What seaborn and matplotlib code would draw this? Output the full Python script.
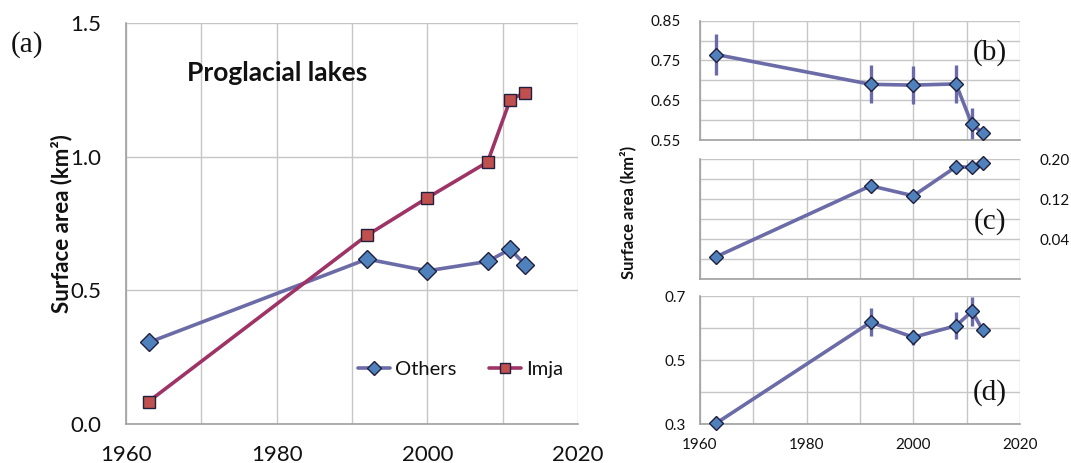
import matplotlib
matplotlib.use("Agg")
import matplotlib.pyplot as plt
import numpy as np
import pandas as pd
import seaborn as sns

sns.set_theme(style="white")
plt.rcParams["font.family"] = ["Lato", "DejaVu Sans"]

# Survey years shared by every series
years = [1963, 1992, 2000, 2008, 2011, 2013]

# (a) total proglacial lake area, km²
others_area = [0.305, 0.617, 0.573, 0.608, 0.654, 0.595]
imja_area = [0.084, 0.706, 0.846, 0.980, 1.213, 1.240]

# (b) lake area, km², with uncertainty
b_area = [0.765, 0.690, 0.688, 0.691, 0.589, 0.568]
b_err = [0.052, 0.048, 0.048, 0.048, 0.042, 0.0]

# (c) lake area, km²
c_area = [0.005, 0.147, 0.127, 0.185, 0.184, 0.192]

# (d) lake area, km², with uncertainty
d_area = [0.302, 0.618, 0.571, 0.607, 0.652, 0.594]
d_err = [0.018, 0.043, 0.024, 0.042, 0.046, 0.0]

line_blue = "#6B6BA8"
fill_blue = "#4F81BD"
line_red = "#9E3466"
fill_red = "#C0504D"
edge = "#1F1F3F"
grid_c = "#C6C6C6"
spine_c = "#A0A0A0"
text_c = "#111111"

fig = plt.figure(figsize=(10.71, 4.63), dpi=100)
W, H = 1071, 463


def frac(l, t, r, b):
    return [l / W, 1 - b / H, (r - l) / W, (b - t) / H]


def style_axes(ax, xmin=1960, xmax=2020):
    ax.set_xlim(xmin, xmax)
    ax.set_xticks(np.arange(1960, 2021, 10))
    ax.grid(True, color=grid_c, linewidth=1.0)
    ax.set_axisbelow(True)
    for s in ["top", "right"]:
        ax.spines[s].set_visible(False)
    for s in ["left", "bottom"]:
        ax.spines[s].set_color(spine_c)
        ax.spines[s].set_linewidth(1.2)
    ax.tick_params(length=0)


def series(ax, x, y, lc, fc, marker, ms, label=None, err=None):
    df = pd.DataFrame({"year": x, "area": y})
    if err is not None:
        ax.errorbar(x, y, yerr=err, fmt="none", ecolor=lc, elinewidth=2.4,
                    capsize=0, zorder=2)
    sns.lineplot(data=df, x="year", y="area", ax=ax, color=lc, linewidth=2.6,
                 marker=marker, markersize=ms, markerfacecolor=fc,
                 markeredgecolor=edge, markeredgewidth=1.0, label=label,
                 legend=False, zorder=3, clip_on=False)
    ax.set_xlabel("")
    ax.set_ylabel("")


# ---- (a) ----
ax_a = fig.add_axes(frac(126, 23, 578, 424))
style_axes(ax_a)
series(ax_a, years, others_area, line_blue, fill_blue, "D", 9, "Others")
series(ax_a, years, imja_area, line_red, fill_red, "s", 8.5, "Imja")
ax_a.set_ylim(0, 1.5)
ax_a.set_yticks([0, 0.5, 1.0, 1.5])
ax_a.set_yticklabels(["0.0", "0.5", "1.0", "1.5"])
ax_a.set_xticks([1960, 1980, 2000, 2020], labels=["1960", "1980", "2000", "2020"])
ax_a.set_xticks(np.arange(1960, 2021, 10), minor=True)
ax_a.grid(True, which="minor", color=grid_c, linewidth=1.0)
ax_a.tick_params(axis="y", labelsize=16, pad=18, colors=text_c)
ax_a.tick_params(axis="x", labelsize=16, pad=15, colors=text_c)
ax_a.set_ylabel("Surface area (km²)", fontsize=16, fontweight="bold",
                labelpad=-2, color=text_c)
ax_a.text(0.135, 0.875, "Proglacial lakes", transform=ax_a.transAxes,
          fontsize=19, fontweight="bold", ha="left", va="center", color=text_c)
handles, labels = ax_a.get_legend_handles_labels()
leg = ax_a.legend(handles, labels, loc="center", bbox_to_anchor=(0.74, 0.135),
                  ncol=2, frameon=False, fontsize=14.5, handlelength=1.6,
                  handletextpad=0.25, columnspacing=1.6, markerscale=0.8)
for t in leg.get_texts():
    t.set_color(text_c)
fig.text(27 / W, 1 - 45 / H, "(a)", fontsize=21, family="Liberation Serif",
         ha="center", va="center", color=text_c)

# ---- (b) ----
ax_b = fig.add_axes(frac(700, 20.7, 1020, 140))
style_axes(ax_b)
series(ax_b, years, b_area, line_blue, fill_blue, "D", 7.5, err=b_err)
ax_b.set_ylim(0.55, 0.85)
ax_b.set_yticks(np.arange(0.55, 0.851, 0.05))
ax_b.set_yticklabels(["0.55", "", "0.65", "", "0.75", "", "0.85"])
ax_b.set_xticklabels([])
ax_b.tick_params(labelsize=11, pad=14, colors=text_c)

# ---- (c) ----
ax_c = fig.add_axes(frac(700, 159.3, 1020, 279.3))
style_axes(ax_c)
series(ax_c, years, c_area, line_blue, fill_blue, "D", 7.5)
ax_c.set_ylim(-0.04, 0.20)
ax_c.set_yticks(np.arange(-0.04, 0.201, 0.04))
ax_c.yaxis.tick_right()
ax_c.set_yticklabels(["", "", "0.04", "", "0.12", "", "0.20"])
ax_c.set_xticklabels([])
ax_c.tick_params(labelsize=11, pad=14, colors=text_c)

# ---- (d) ----
ax_d = fig.add_axes(frac(700, 296, 1020, 424))
style_axes(ax_d)
series(ax_d, years, d_area, line_blue, fill_blue, "D", 7.5, err=d_err)
ax_d.set_ylim(0.3, 0.7)
ax_d.set_yticks(np.arange(0.3, 0.701, 0.1))
ax_d.set_yticklabels(["0.3", "", "0.5", "", "0.7"])
ax_d.set_xticks([1960, 1980, 2000, 2020], labels=["1960", "1980", "2000", "2020"])
ax_d.set_xticks(np.arange(1960, 2021, 10), minor=True)
ax_d.grid(True, which="minor", color=grid_c, linewidth=1.0)
ax_d.tick_params(labelsize=11, pad=10, colors=text_c)

for lab, yy in [("(b)", 53), ("(c)", 222), ("(d)", 393)]:
    fig.text(990 / W, 1 - yy / H, lab, fontsize=21, family="Liberation Serif",
             ha="center", va="center", color=text_c)

fig.text(628 / W, 1 - 212 / H, "Surface area (km²)", rotation=90,
         fontsize=12, fontweight="bold", ha="center", va="center", color=text_c)

fig.savefig("out.png", dpi=100)
